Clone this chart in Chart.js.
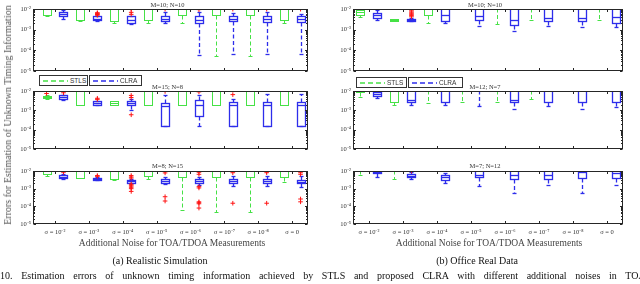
<!DOCTYPE html>
<html><head><meta charset="utf-8">
<script src="https://cdn.jsdelivr.net/npm/chart.js@4.4.0/dist/chart.umd.min.js"></script>
<style>
html,body{margin:0;padding:0;background:#fff;}
body{width:640px;height:284px;position:relative;overflow:hidden;font-family:"Liberation Serif","DejaVu Serif",serif;color:#222;}
canvas{position:absolute;}
.t{position:absolute;white-space:nowrap;transform:translate(-50%,-50%);line-height:1;}
.ptitle{font-size:6.5px;color:#333;}
.axt{font-size:9.5px;color:#444;}
.ylab{font-size:10px;color:#555;}
.cap{font-size:10px;color:#111;}
.leg{position:absolute;border:1px solid #333;background:#fff;box-sizing:border-box;display:flex;align-items:center;padding-left:3px;font-family:"Liberation Sans",Arial,sans-serif;font-size:6.5px;color:#333;}
.leg svg{margin-right:2px;}
</style></head><body>
<script>
// ---------------- DATA ----------------
const groupLabels = ['σ = 10⁻²','σ = 10⁻³','σ = 10⁻⁴','σ = 10⁻⁵','σ = 10⁻⁶','σ = 10⁻⁷','σ = 10⁻⁸','σ = 0'];
const yTickValues = [1e-5, 1e-4, 1e-3, 1e-2];
const yTickLabels = ['10⁻⁵', '10⁻⁴', '10⁻³', '10⁻²'];
const seriesNames = ['STLS', 'CLRA'];
const panelTitles = ['M=10; N=10', 'M=15; N=8', 'M=8; N=15', 'M=10; N=10', 'M=12; N=7', 'M=7; N=12'];
// each group: [lower whisker, q1, median, q3, upper whisker]
const simA_STLS = [[4.4e-3,5.2e-3,1.2e-2,1.5e-2,2e-2],[2.7e-3,3.0e-3,1.2e-2,1.5e-2,2e-2],[2.2e-3,2.7e-3,1.2e-2,1.5e-2,2e-2],[2.2e-3,3.0e-3,1.2e-2,1.5e-2,2e-2],[2.1e-3,5.2e-3,1.2e-2,1.5e-2,2e-2],[5.2e-5,5.2e-3,1.2e-2,1.5e-2,2e-2],[5.2e-5,5.2e-3,1.2e-2,1.5e-2,2e-2],[2.2e-3,2.8e-3,1.2e-2,1.5e-2,2e-2]];
const simA_CLRA = [[3.4e-3,4.4e-3,5.5e-3,6.9e-3,9.3e-3],[2.6e-3,2.8e-3,3.4e-3,4.4e-3,4.7e-3],[1.85e-3,2.2e-3,3.0e-3,4.4e-3,4.7e-3],[2.1e-3,2.5e-3,3.4e-3,4.4e-3,6.9e-3],[5.9e-5,2.2e-3,3.0e-3,4.4e-3,6.9e-3],[6.3e-5,2.5e-3,3.4e-3,4.4e-3,6.3e-3],[6.6e-5,2.4e-3,3.4e-3,4.7e-3,6.9e-3],[6.6e-5,2.4e-3,3.2e-3,4.4e-3,5.9e-3]];
const simA_outSTLS = [[],[],[],[],[],[],[],[]];
const simA_outCLRA = [[],[5.0e-3,5.4e-3,5.8e-3,6.2e-3,6.6e-3],[9.8e-3,6.9e-3,5.5e-3],[9.8e-3],[9.3e-3],[9.8e-3],[9.8e-3],[9.8e-3]];

const simB_STLS = [[3.8e-3,4.2e-3,4.7e-3,5.2e-3,6.0e-3],[2.0e-3,2.0e-3,1.2e-2,1.5e-2,2e-2],[1.95e-3,1.95e-3,2.5e-3,3.0e-3,3.0e-3],[2.0e-3,2.0e-3,1.2e-2,1.5e-2,2e-2],[2.0e-3,2.0e-3,1.2e-2,1.5e-2,2e-2],[2.0e-3,2.0e-3,1.2e-2,1.5e-2,2e-2],[2.0e-3,2.0e-3,1.2e-2,1.5e-2,2e-2],[2.0e-3,2.0e-3,1.2e-2,1.5e-2,2e-2]];
const simB_CLRA = [[3.4e-3,3.7e-3,4.7e-3,6.0e-3,6.5e-3],[2.0e-3,2.0e-3,2.5e-3,3.0e-3,3.2e-3],[1.0e-3,1.95e-3,2.3e-3,2.9e-3,4.0e-3],[1.6e-4,1.6e-4,1.65e-3,2.5e-3,6.5e-3],[1.5e-4,5.0e-4,1.95e-3,3.4e-3,6.5e-3],[1.5e-4,1.5e-4,1.8e-3,2.7e-3,3.7e-3],[1.5e-4,1.5e-4,1.95e-3,2.7e-3,7.2e-3],[1.5e-4,1.5e-4,1.95e-3,2.7e-3,7.2e-3]];
const simB_outSTLS = [[7.4e-3],[],[],[],[],[],[],[]];
const simB_outCLRA = [[8.1e-3],[4.2e-3,3.7e-3],[5.9e-3,4.6e-3,5.9e-4],[9.5e-3],[9.0e-3],[6.5e-3],[],[]];

const simC_STLS = [[5.2e-3,6.8e-3,1.2e-2,1.5e-2,2e-2],[3.9e-3,3.9e-3,1.2e-2,1.5e-2,2e-2],[2.9e-3,3.5e-3,1.2e-2,1.5e-2,2e-2],[3.5e-3,5.2e-3,1.2e-2,1.5e-2,2e-2],[6.3e-5,4.8e-3,1.2e-2,1.5e-2,2e-2],[4.7e-5,4.4e-3,1.2e-2,1.5e-2,2e-2],[4.7e-5,4.4e-3,1.2e-2,1.5e-2,2e-2],[2.5e-3,4.4e-3,1.2e-2,1.5e-2,2e-2]];
const simC_CLRA = [[3.7e-3,4.2e-3,4.8e-3,5.8e-3,7.0e-3],[2.9e-3,3.2e-3,3.6e-3,4.2e-3,4.7e-3],[2.0e-3,2.2e-3,2.6e-3,3.1e-3,3.6e-3],[1.9e-3,2.2e-3,2.7e-3,3.4e-3,4.8e-3],[1.6e-3,2.2e-3,2.7e-3,3.4e-3,4.8e-3],[1.4e-3,2.2e-3,2.7e-3,3.4e-3,5.0e-3],[1.5e-3,2.2e-3,2.7e-3,3.4e-3,5.5e-3],[1.2e-3,2.0e-3,2.5e-3,3.2e-3,5.5e-3]];
const simC_outSTLS = [[],[],[],[],[],[],[],[]];
const simC_outCLRA = [[9.5e-3,8.5e-3],[5.5e-3,5.0e-3],[5.5e-3,4.6e-3,4.0e-3,1.8e-3,1.6e-3,1.4e-3,1.2e-3,1.0e-3,7e-4],[1.0e-2,7.8e-3,3.5e-4,2.0e-4],[8.5e-3,6.5e-3,1.3e-3,1.1e-3,1.8e-4,1.6e-4,1.4e-4,8e-5],[8.0e-3,1.5e-4],[9.5e-3,8.0e-3,1.5e-4],[1.0e-2,8.0e-3,6.5e-3,2.6e-4,1.8e-4]];

const offA_STLS = [[4.1e-3,5.2e-3,6.9e-3,8.5e-3,1.1e-2],[2.5e-3,2.5e-3,2.9e-3,3.3e-3,3.3e-3],[2.1e-3,5.2e-3,1.2e-2,1.5e-2,2e-2],[1.2e-2,1.3e-2,1.5e-2,1.8e-2,2e-2],[1.9e-3,1.1e-2,1.4e-2,1.7e-2,2e-2],[2.8e-3,1.1e-2,1.4e-2,1.7e-2,2e-2],[1.2e-2,1.3e-2,1.5e-2,1.8e-2,2e-2],[2.8e-3,1.1e-2,1.4e-2,1.7e-2,2e-2]];
const offA_CLRA = [[3.0e-3,3.6e-3,5.1e-3,6.3e-3,8.5e-3],[2.5e-3,2.5e-3,2.8e-3,3.3e-3,3.6e-3],[2.1e-3,2.5e-3,5.2e-3,1.2e-2,1.5e-2],[1.55e-3,2.8e-3,4.4e-3,1.2e-2,1.5e-2],[9.0e-4,1.75e-3,3.0e-3,1.2e-2,1.5e-2],[1.55e-3,2.5e-3,3.6e-3,1.2e-2,1.5e-2],[1.4e-3,2.5e-3,3.6e-3,1.2e-2,1.5e-2],[1.4e-3,2.1e-3,4.1e-3,1.2e-2,1.5e-2]];
const offA_outSTLS = [[],[],[],[],[],[],[],[]];
const offA_outCLRA = [[],[1.0e-2,9.0e-3,8.0e-3,7.0e-3,6.2e-3,5.5e-3,4.8e-3,4.2e-3],[],[],[],[],[],[]];

const offB_STLS = [[5.1e-3,8.5e-3,1.2e-2,1.5e-2,2e-2],[1.9e-3,2.8e-3,1.2e-2,1.5e-2,2e-2],[2.3e-3,1.1e-2,1.4e-2,1.7e-2,2e-2],[2.6e-3,1.1e-2,1.4e-2,1.7e-2,2e-2],[2.6e-3,1.1e-2,1.4e-2,1.7e-2,2e-2],[3.9e-3,1.1e-2,1.4e-2,1.7e-2,2e-2],[1.2e-2,1.3e-2,1.5e-2,1.8e-2,2e-2],[1.2e-2,1.3e-2,1.5e-2,1.8e-2,2e-2]];
const offB_CLRA = [[4.2e-3,5.8e-3,6.9e-3,8.5e-3,1.0e-2],[1.9e-3,2.8e-3,3.4e-3,1.2e-2,1.5e-2],[1.9e-3,2.8e-3,1.1e-2,1.2e-2,1.5e-2],[1.65e-3,1.1e-2,1.3e-2,1.5e-2,2e-2],[1.2e-3,2.6e-3,3.4e-3,1.2e-2,1.5e-2],[1.75e-3,2.8e-3,1.1e-2,1.2e-2,1.5e-2],[1.2e-3,2.8e-3,1.1e-2,1.2e-2,1.5e-2],[1.5e-3,2.8e-3,1.1e-2,1.2e-2,1.5e-2]];
const offB_outSTLS = [[],[],[],[],[],[],[],[]];
const offB_outCLRA = [[],[],[],[],[],[],[],[]];

const offC_STLS = [[5.9e-3,1.1e-2,1.4e-2,1.7e-2,2e-2],[3.4e-3,1.1e-2,1.4e-2,1.7e-2,2e-2],[1.2e-2,1.3e-2,1.5e-2,1.8e-2,2e-2],[1.2e-2,1.3e-2,1.5e-2,1.8e-2,2e-2],[1.2e-2,1.3e-2,1.5e-2,1.8e-2,2e-2],[1.2e-2,1.3e-2,1.5e-2,1.8e-2,2e-2],[1.2e-2,1.3e-2,1.5e-2,1.8e-2,2e-2],[1.2e-2,1.3e-2,1.5e-2,1.8e-2,2e-2]];
const offC_CLRA = [[4.4e-3,7.4e-3,9.0e-3,1.2e-2,1.5e-2],[3.4e-3,4.4e-3,5.5e-3,6.8e-3,9.2e-3],[2.2e-3,3.2e-3,4.4e-3,5.9e-3,8.0e-3],[1.45e-3,4.4e-3,5.9e-3,1.2e-2,1.5e-2],[5.5e-4,3.4e-3,5.9e-3,1.2e-2,1.5e-2],[1.6e-3,3.4e-3,5.9e-3,1.2e-2,1.5e-2],[6.0e-4,3.9e-3,9.0e-3,1.2e-2,1.5e-2],[1.6e-3,3.9e-3,7.4e-3,1.2e-2,1.5e-2]];
const offC_outSTLS = [[],[],[],[],[],[],[],[]];
const offC_outCLRA = [[],[1.0e-2,1.05e-2],[],[],[],[],[],[]];

// ---------------- STYLE / LAYOUT ----------------
const GREEN = 'rgb(70,225,70)', BLUE = 'rgb(45,45,235)', RED = 'rgb(255,20,20)';
const COLS = [{x0:33, x1:308, xmin:0.35, xmax:8.47}, {x0:353, x1:623, xmin:0.53, xmax:8.47}];
const ROWS = [{y0:9, y1:71}, {y0:91, y1:149}, {y0:171, y1:224}];
const YW = 34, PT = 6, PR = 6;
const BOX_W = 0.25, OFF = 0.25;

const panels = [
  {s: simA_STLS, c: simA_CLRA, os: simA_outSTLS, oc: simA_outCLRA, col:0, row:0},
  {s: simB_STLS, c: simB_CLRA, os: simB_outSTLS, oc: simB_outCLRA, col:0, row:1},
  {s: simC_STLS, c: simC_CLRA, os: simC_outSTLS, oc: simC_outCLRA, col:0, row:2},
  {s: offA_STLS, c: offA_CLRA, os: offA_outSTLS, oc: offA_outCLRA, col:1, row:0},
  {s: offB_STLS, c: offB_CLRA, os: offB_outSTLS, oc: offB_outCLRA, col:1, row:1},
  {s: offC_STLS, c: offC_CLRA, os: offC_outSTLS, oc: offC_outCLRA, col:1, row:2},
];

function seg(ctx, x1, y1, x2, y2){ctx.beginPath();ctx.moveTo(x1,y1);ctx.lineTo(x2,y2);ctx.stroke();}

const boxPlugin = {
  id: 'boxes',
  beforeDatasetsDraw(chart, args, opts) {
    const {ctx, chartArea: a} = chart;
    const x = chart.scales.x, y = chart.scales.y;
    ctx.save();
    ctx.beginPath(); ctx.rect(a.left, a.top, a.right - a.left, a.bottom - a.top); ctx.clip();
    opts.series.forEach(sr => {
      sr.stats.forEach((st, i) => {
        const xv = i + 1 + sr.offset;
        const cx = Math.round(x.getPixelForValue(xv)) + 0.5;
        const hw = Math.round(Math.abs(x.getPixelForValue(xv + BOX_W / 2) - x.getPixelForValue(xv)));
        const cw = Math.max(2, Math.round(hw * 0.6));
        const p = st.map(v => Math.round(y.getPixelForValue(v)) + 0.5);
        const [lo, q1, med, q3, hi] = p;
        ctx.strokeStyle = sr.color; ctx.lineWidth = sr.lw;
        ctx.setLineDash([4, 2.5]);
        seg(ctx, cx, q3, cx, hi); seg(ctx, cx, q1, cx, lo);
        ctx.setLineDash([]);
        seg(ctx, cx - cw, hi, cx + cw, hi); seg(ctx, cx - cw, lo, cx + cw, lo);
        ctx.strokeRect(cx - hw, q3, 2 * hw, q1 - q3);
        seg(ctx, cx - hw, med, cx + hw, med);
      });
    });
    ctx.restore();
  },
  afterDraw(chart) {
    const {ctx, chartArea: a} = chart;
    const x = chart.scales.x, y = chart.scales.y;
    ctx.save();
    ctx.strokeStyle = '#262626'; ctx.lineWidth = 1;
    const L = Math.round(a.left) + 0.5, R = Math.round(a.right) - 0.5, T = Math.round(a.top) + 0.5, B = Math.round(a.bottom) - 0.5;
    ctx.strokeRect(L, T, R - L, B - T);
    groupLabels.forEach((_, i) => {
      const px = Math.round(x.getPixelForValue(i + 1)) + 0.5;
      seg(ctx, px, B, px, B - 2.5); seg(ctx, px, T, px, T + 2.5);
    });
    for (let e = -5; e < -2; e++) {
      for (let m = 1; m < 10; m++) {
        const py = Math.round(y.getPixelForValue(m * Math.pow(10, e))) + 0.5;
        const len = m === 1 ? 2.5 : 1.5;
        seg(ctx, L, py, L + len, py); seg(ctx, R, py, R - len, py);
      }
    }
    ctx.restore();
  }
};

const tickFont = {family: "'Liberation Serif', serif", size: 6.5};

panels.forEach((pn, k) => {
  const C = COLS[pn.col], Rw = ROWS[pn.row];
  const showX = pn.row === 2;
  const XH = showX ? 16 : 6;
  const cv = document.createElement('canvas');
  const W = YW + (C.x1 - C.x0) + PR, H = PT + (Rw.y1 - Rw.y0) + XH;
  cv.width = W; cv.height = H;
  cv.style.left = (C.x0 - YW) + 'px'; cv.style.top = (Rw.y0 - PT) + 'px';
  cv.style.width = W + 'px'; cv.style.height = H + 'px';
  document.body.appendChild(cv);
  const outPts = [];
  pn.os.forEach((arr, i) => arr.forEach(v => outPts.push({x: i + 1 - OFF, y: v})));
  pn.oc.forEach((arr, i) => arr.forEach(v => outPts.push({x: i + 1 + OFF, y: v})));
  new Chart(cv, {
    type: 'scatter',
    data: {datasets: [{label: 'outliers', data: outPts, pointStyle: 'cross', pointRadius: 2.3, borderColor: RED, backgroundColor: RED, borderWidth: 1, pointHoverRadius: 2.3}]},
    plugins: [boxPlugin],
    options: {
      responsive: false, animation: false, devicePixelRatio: 1,
      events: [],
      layout: {padding: {left: 0, right: PR, top: PT, bottom: 0}},
      plugins: {
        legend: {display: false}, tooltip: {enabled: false},
        boxes: {series: [
          {stats: pn.s, offset: -OFF, color: GREEN, lw: 1},
          {stats: pn.c, offset: OFF, color: BLUE, lw: 1.3}
        ]}
      },
      scales: {
        x: {type: 'linear', min: C.xmin, max: C.xmax,
            afterBuildTicks: s => { s.ticks = groupLabels.map((_, i) => ({value: i + 1})); },
            afterFit: s => { s.height = XH; },
            grid: {display: false, drawTicks: false}, border: {display: false},
            ticks: {display: showX, autoSkip: false, maxRotation: 0, minRotation: 0, padding: 4, font: tickFont, color: '#333',
                    callback: (v, i) => groupLabels[i]}},
        y: {type: 'logarithmic', min: 1e-5, max: 1e-2,
            afterBuildTicks: s => { s.ticks = yTickValues.map(v => ({value: v})); },
            afterFit: s => { s.width = YW; },
            grid: {display: false, drawTicks: false}, border: {display: false},
            ticks: {padding: 2, font: tickFont, color: '#333', autoSkip: false,
                    callback: (v, i) => yTickLabels[i]}}
      }
    }
  });
});

// ---------------- TEXT ----------------
function addText(cls, txt, cx, cy, extra) {
  const d = document.createElement('div');
  d.className = 't ' + cls; d.textContent = txt;
  d.style.left = cx + 'px'; d.style.top = cy + 'px';
  if (extra) Object.assign(d.style, extra);
  document.body.appendChild(d);
  return d;
}
const titleY = [4.5, 86.5, 165.5];
panels.forEach((pn, k) => {
  const C = COLS[pn.col];
  addText('ptitle', panelTitles[k], (C.x0 + C.x1) / 2 - 3, titleY[pn.row]);
});
addText('ylab', 'Errors for Estimation of Unknown Timing Information', 8, 115, {transform: 'translate(-50%,-50%) rotate(-90deg)'});
addText('axt', 'Additional Noise for TOA/TDOA Measurements', 172, 243.5);
addText('axt', 'Additional Noise for TOA/TDOA Measurements', 489, 243.5);
addText('cap', '(a) Realistic Simulation', 160, 261);
addText('cap', '(b) Office Real Data', 477, 261);
const fig = document.createElement('div');
fig.className = 'cap';
fig.textContent = '10. Estimation errors of unknown timing information achieved by STLS and proposed CLRA with different additional noises in TOA/TDOA';
Object.assign(fig.style, {position: 'absolute', left: '0px', top: '271px', whiteSpace: 'nowrap', wordSpacing: '6.2px', lineHeight: '1'});
document.body.appendChild(fig);

// legends
function legend(left, top, w, name, color) {
  const d = document.createElement('div');
  d.className = 'leg';
  Object.assign(d.style, {left: left + 'px', top: top + 'px', width: w + 'px', height: '11px'});
  d.innerHTML = '<svg width="25" height="4"><line x1="0" y1="2" x2="25" y2="2" stroke="' + color + '" stroke-width="1.4" stroke-dasharray="5 3"/></svg>';
  const sp = document.createElement('span'); sp.textContent = name; d.appendChild(sp);
  document.body.appendChild(d);
}
legend(39, 75, 49, seriesNames[0], GREEN);
legend(89, 75, 53, seriesNames[1], BLUE);
legend(356, 77, 51, seriesNames[0], GREEN);
legend(408, 77, 55, seriesNames[1], BLUE);
</script>
</body></html>
